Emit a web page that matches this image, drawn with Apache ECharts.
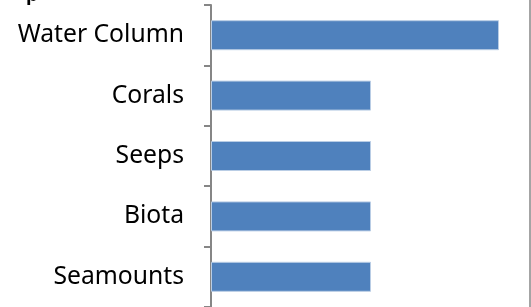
<!DOCTYPE html>
<html>
<head>
<meta charset="utf-8">
<script src="https://cdn.jsdelivr.net/npm/echarts@6/dist/echarts.min.js"></script>
<style>
html,body{margin:0;padding:0;background:#fff;}
#chart{width:531px;height:307px;}
</style>
</head>
<body>
<div id="chart"></div>
<script>
// categories top to bottom
var categories = ['Water Column', 'Corals', 'Seeps', 'Biota', 'Seamounts'];
var counts = [9, 5, 5, 5, 5];

var myChart = echarts.init(document.getElementById('chart'));
var option = {
	animation: false,
	grid: { left: 211, top: 5, width: 320, height: 303.5 },
	xAxis: {
		type: 'value',
		min: 0,
		max: 10,
		axisLine: { show: false },
		axisTick: { show: false },
		axisLabel: { show: false },
		splitLine: { show: false }
	},
	yAxis: {
		type: 'category',
		inverse: true,
		data: categories,
		axisLine: { show: true, lineStyle: { color: '#868686', width: 2 } },
		axisTick: { show: true, length: 7, lineStyle: { color: '#868686', width: 2 } },
		axisLabel: {
			margin: 27,
			color: '#000',
			fontSize: 24.7,
			fontFamily: 'Noto Sans'
		}
	},
	series: [{
		type: 'bar',
		data: counts,
		barWidth: 30,
		itemStyle: { color: '#4F81BD', borderColor: '#b9cde5', borderWidth: 1 }
	}],
	graphic: [
		{ type: 'line', shape: { x1: 530, y1: 0, x2: 530, y2: 307 }, style: { stroke: '#868686', lineWidth: 1.5 } },
		{ type: 'text', left: 26, top: -15, style: { text: 'p', font: 'bold 20px "Liberation Sans"', fill: '#000' } }
	]
};
myChart.setOption(option);
</script>
</body>
</html>
